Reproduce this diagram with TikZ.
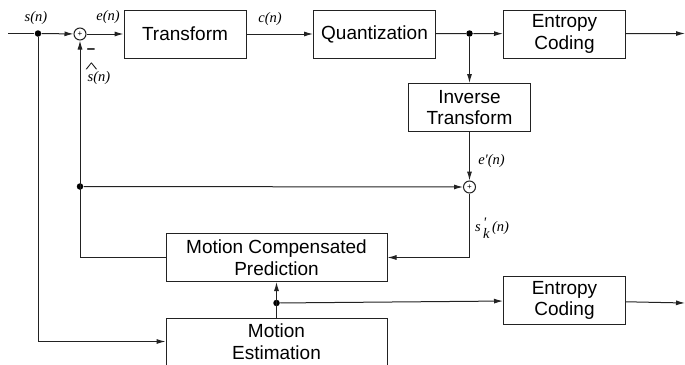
\documentclass[tikz,border=0pt]{standalone}
\usepackage{fontspec}
\setmainfont{Liberation Sans}
\newfontfamily\lblfont{Liberation Serif}
\usetikzlibrary{arrows.meta, positioning, calc}
\definecolor{linegray}{HTML}{222222}

\tikzset{
  box/.style={draw=linegray, line width=1pt, minimum width=122pt, minimum height=48pt, align=center, inner sep=0pt, font=\fontsize{19}{21.5}\selectfont},
  wide/.style={box, minimum width=221pt},
  sumnode/.style={draw=linegray, circle, fill=white, line width=1pt, minimum size=12pt, inner sep=0pt, font=\fontsize{8}{8}\selectfont},
  dotnode/.style={circle, fill=black, minimum size=6.5pt, inner sep=0pt},
  lbl/.style={font=\fontsize{14.5}{16}\selectfont\lblfont\itshape, inner sep=0pt},
  arr/.style={-{Latex[length=9pt, width=5pt]}},
}

\begin{document}
\begin{tikzpicture}[x=1pt, y=1pt, line width=1pt, draw=linegray]
  \useasboundingbox (0,0) rectangle (685,-364);
  % Bloques
  \node[box] (trans) at (185,-34) {Transform};
  \node[box] (quant) at (374.5,-34) {Quantization};
  \node[box] (ecod) at (564.5,-34) {Entropy\\Coding};
  \node[box] (itrans) at (469.5,-107.5) {Inverse\\Transform};
  \node[wide] (mcp) at (276.5,-257.5) {Motion Compensated\\Prediction};
  \node[wide, minimum height=47pt] (mest) at (276.5,-341.5) {Motion\\Estimation};
  \node[box] (evec) at (564.5,-300.5) {Entropy\\Coding};
  % Sumadores
  \node[sumnode] (sum1) at (80,-34) {+};
  \node[sumnode] (sum2) at (469.5,-187) {+};
  % Puntos de derivacion
  \node[dotnode] (d1) at (38,-33.5) {};
  \node[dotnode] (d2) at (469.5,-33.5) {};
  \node[dotnode] (d3) at (80,-186.5) {};
  \node[dotnode] (d4) at (276.5,-303) {};
  \coordinate (in) at (8,-33.5);
  \coordinate (out1) at (685,-33.5);
  \coordinate (out2) at (685,-303);
  % Camino directo
  \draw (in) -- (d1);
  \draw[arr] (d1) -- (sum1);
  \draw[arr] (sum1) -- (trans);
  \draw[arr] (trans) -- (quant);
  \draw (quant) -- (d2);
  \draw[arr] (d2) -- (ecod);
  \draw[arr] (ecod) -- (out1);
  % Lazo de reconstruccion
  \draw[arr] (d2) -- (itrans);
  \draw[arr] (itrans) -- (sum2);
  \draw[arr] (d3) -- (sum2);
  \draw[arr] (sum2) |- (mcp.east);
  \draw[arr] (mcp.west) -| (sum1);
  % Estimacion de movimiento
  \draw[arr] (d1) |- (mest.west);
  \draw[arr] (mest) -- (mcp);
  \draw[arr] (d4) -- (evec);
  \draw[arr] (evec) -- (out2);
  % Etiquetas
  \node[lbl] (ls) at (36,-18) {s(n)};
  \node[lbl] (le) at (108,-17.5) {e(n)};
  \node[lbl] (lc) at (270,-19) {c(n)};
  \node[lbl] (lhat) at (99,-78) {s(n)};
  \node[lbl] (lhatmark) at (91.5,-68) {\upshape\scalebox{1.8}[1]{\textasciicircum}};
  \node[font=\fontsize{15}{16}\selectfont\bfseries, inner sep=0pt] (lminus) at (91,-51.5) {--};
  \node[lbl] (lep) at (491.5,-161) {e'(n)};
  \node[lbl] (lsk) at (492,-228) {s\rlap{\raisebox{4pt}{\,'}}\raisebox{-7pt}{\,k}\,(n)};
\end{tikzpicture}
\end{document}
